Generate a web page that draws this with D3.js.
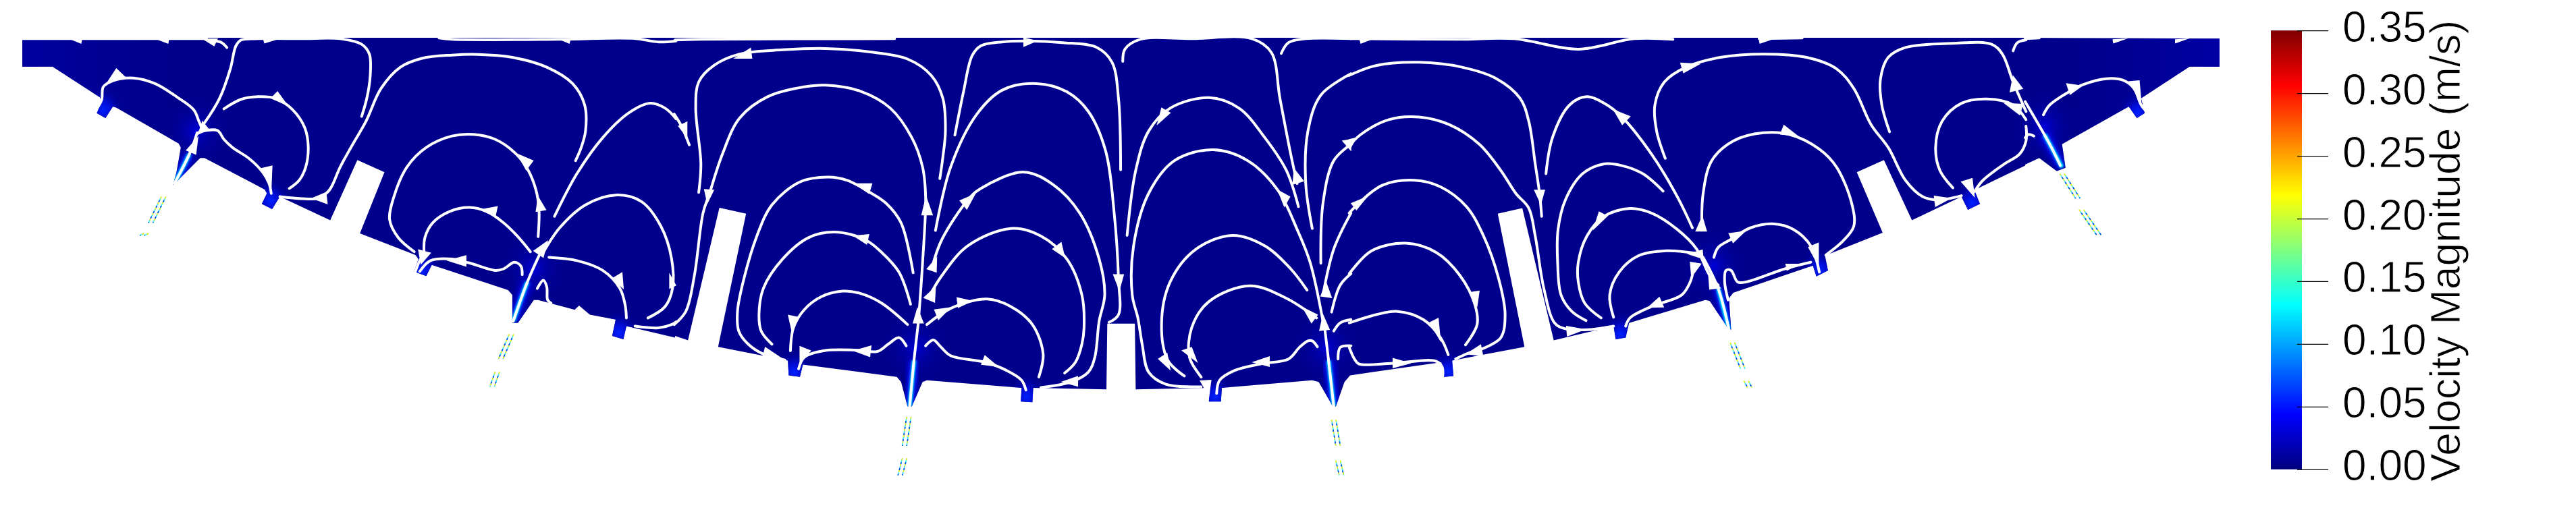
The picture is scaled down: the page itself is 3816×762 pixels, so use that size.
<!DOCTYPE html>
<html><head><meta charset="utf-8">
<style>html,body{margin:0;padding:0;background:#fff;overflow:hidden}svg{display:block}</style>
<script src="https://cdn.jsdelivr.net/npm/d3@7/dist/d3.min.js"></script>
</head><body>
<script>
// ---- values (sheet coordinates per sheet) ----
const colorTicks = [0,0.05,0.10,0.15,0.20,0.25,0.30,0.35];
const colorTitle = "Velocity Magnitude (m/s)";
const jetStops = [[0,"#00007f"],[0.125,"#0000ff"],[0.375,"#00ffff"],[0.625,"#ffff00"],[0.875,"#ff0000"],[1,"#7f0000"]];

// sheet origins of the four read-off sheets: [first x, last x]
const sheets = [[0,1000],[1000,2000],[2000,3000],[3000,3816]];

const outlineA = [[52,115],[52,203],[122,203],[232,297],[236,310],[225,345],[245,360],[262,325],[270,328],[415,438],[420,450],[410,525],[402,565],[465,482],[475,482],[615,578],[620,590],[608,622],[632,638],[650,600],[767,672],[830,488],[893,525],[836,712],[965,778],[972,790],[962,828],[990,842],[1003,808],[1180,885],[1190,900],[1190,985],[1203,985],[1240,915],[1250,915],[1335,945],[1345,932],[1370,960],[1430,975],[1422,1025],[1448,1035],[1455,995],[1568,1030]];
const outlineB = [[0,1025],[30,1038],[103,634],[165,652],[100,1058],[262,1100],[264,1145],[290,1150],[297,1112],[515,1150],[525,1165],[540,1240],[550,1240],[575,1165],[585,1160],[805,1183],[803,1225],[830,1227],[832,1183],[1002,1188],[1004,987],[1068,987],[1070,1188],[1242,1183],[1240,1225],[1268,1225],[1270,1183],[1480,1160],[1495,1165],[1528,1240],[1535,1240],[1555,1165],[1568,1145]];
const outlineC = [[0,1145],[212,1105],[218,1150],[240,1147],[237,1100],[405,1058],[343,652],[400,635],[473,1038],[612,995],[617,1035],[640,1030],[648,985],[825,915],[835,918],[880,1005],[885,1005],[880,910],[890,893],[1075,810],[1083,843],[1110,825],[1103,780],[1237,710],[1177,525],[1240,488],[1305,672],[1420,600],[1435,640],[1463,622],[1450,580],[1568,505]];
const outlineD = [[0,502],[40,482],[90,522],[115,512],[105,440],[295,325],[318,360],[340,345],[330,300],[468,203],[553,203],[553,118],[0,115]];

const streamsA = [
 [[220,340],[236,305],[240,265],[265,245],[310,238],[360,255],[410,295],[450,335],[462,370],[470,395]],
 [[475,375],[510,300],[535,210],[548,140],[560,122],[600,118],[700,118],[790,118],[840,135],[858,165],[860,230],[852,300],[840,355]],
 [[520,332],[560,303],[600,295],[640,300],[680,335],[708,390],[716,450],[710,510],[695,550],[672,575]],
 [[463,402],[505,398],[520,425],[540,450],[580,485],[610,525],[625,560],[630,590]],
 [[650,600],[700,606],[740,604],[765,580],[790,510],[815,450],[850,370],[885,270],[930,205],[980,178],[1050,168],[1110,166],[1190,175],[1270,205],[1330,255],[1358,320],[1360,400],[1350,450],[1337,490]],
 [[962,768],[925,725],[905,670],[915,600],[945,510],[990,450],[1050,415],[1100,410],[1150,425],[1195,465],[1225,515],[1245,580],[1252,640],[1250,722]],
 [[985,770],[987,725],[1005,680],[1045,645],[1090,633],[1130,645],[1170,680],[1205,725],[1232,768]],
 [[965,828],[975,795],[985,775]],
 [[975,828],[1000,795],[1050,790],[1090,802],[1150,825],[1170,820],[1195,800],[1210,812],[1213,838]],
 [[1275,785],[1340,795],[1400,825],[1440,880],[1452,930],[1455,970]],
 [[1248,880],[1262,855],[1270,875],[1272,915],[1280,925]],
 [[1262,770],[1300,695],[1360,625],[1430,595],[1490,615],[1535,690],[1560,790],[1562,880],[1545,935],[1505,970]],
 [[1288,660],[1340,530],[1400,420],[1460,345],[1510,315],[1545,330],[1570,362]],
 [[1475,995],[1530,1000],[1560,990],[1570,982]],
 [[500,125],[515,130],[527,145]],
 [[52,118],[480,118]],
 [[1020,116],[1050,120],[1300,120],[1470,117],[1530,128],[1570,125]],
 [[1192,980],[1225,860],[1252,780]],
 [[405,560],[440,470],[458,405]]
];
const streamsB = [
 [[-2,348],[15,385],[33,442]],
 [[-2,990],[25,950],[45,840],[65,650],[80,590],[110,470],[150,360],[215,295],[300,265],[350,260],[430,278],[500,330],[550,420],[575,510],[582,600],[575,800],[565,985]],
 [[55,587],[60,500],[48,330],[55,250],[90,200],[150,165],[250,152],[350,148],[450,158],[540,180],[595,230],[622,300],[628,400],[622,480],[615,545]],
 [[650,412],[670,280],[690,170],[710,140],[760,128],[820,125],[900,130],[980,145],[1015,190],[1030,300],[1035,518]],
 [[605,703],[640,510],[700,350],[760,275],[840,255],[910,280],[960,340],[1000,460],[1020,650],[1030,850],[1030,960],[1008,983]],
 [[553,832],[525,680],[490,620],[450,585],[400,550],[355,540],[290,555],[225,625],[190,720],[160,850],[145,950],[148,1010],[170,1050],[205,1080],[255,1098]],
 [[547,928],[520,830],[480,770],[440,730],[370,708],[310,725],[250,790],[205,880],[195,960],[200,1010],[225,1050]],
 [[540,990],[480,925],[430,895],[390,888],[340,905],[300,945],[275,1000],[268,1070]],
 [[287,1125],[300,1090],[345,1070],[420,1068],[470,1072],[495,1050],[520,1030],[537,1055]],
 [[585,990],[610,965],[650,935],[725,912],[780,935],[830,990],[855,1080],[845,1150]],
 [[582,1055],[600,1037],[615,1055],[640,1085],[720,1105],[770,1130],[805,1160],[815,1190]],
 [[598,810],[620,730],[680,610],[710,575],[810,525],[880,565],[940,650],[985,790],[998,900],[985,980],[975,1090],[960,1135],[920,1165],[850,1182]],
 [[590,905],[620,840],[680,750],[780,697],[850,720],[910,790],[945,900],[950,1000],[945,1050],[930,1105],[905,1138]],
 [[1050,718],[1070,520],[1100,400],[1150,330],[1240,298],[1310,330],[1370,420],[1420,520],[1448,630]],
 [[1040,187],[1045,150],[1080,120],[1200,118],[1340,118],[1385,160],[1405,300],[1430,470],[1445,560]],
 [[1408,163],[1425,130],[1465,118],[1570,118]],
 [[1222,1180],[1140,1172],[1100,1135],[1085,1050],[1075,970],[1062,900],[1065,750],[1100,590],[1160,490],[1250,457],[1330,490],[1400,580],[1445,700],[1475,800],[1505,980]],
 [[1183,1147],[1145,1100],[1130,990],[1150,860],[1210,760],[1295,718],[1370,750],[1430,820],[1468,885]],
 [[1222,1150],[1195,1090],[1200,1000],[1240,920],[1335,872],[1420,910],[1490,970]],
 [[1258,1200],[1265,1160],[1300,1130],[1360,1110],[1425,1095],[1450,1060],[1470,1040],[1480,1040],[1492,1058]],
 [[1530,1010],[1545,985],[1570,975]],
 [[1540,1095],[1545,1060],[1570,1055]],
 [[1480,697],[1465,560],[1470,400],[1500,290],[1570,225]],
 [[1500,803],[1505,620],[1530,490],[1570,440]],
 [[1505,900],[1530,760],[1570,650]],
 [[1525,952],[1545,870],[1570,835]],
 [[0,122],[60,120],[510,118]],
 [[545,1240],[555,1100],[565,985]],
 [[1530,1240],[1518,1100],[1508,990]]
];
const streamsC = [
 [[-2,985],[60,960],[110,950],[170,975],[210,1030],[228,1082]],
 [[-2,1060],[10,1095],[20,1110],[100,1108],[200,1102],[214,1120],[215,1150]],
 [[-2,230],[60,200],[160,190],[260,205],[340,240],[395,300],[415,370],[430,500],[440,590],[445,660]],
 [[-2,445],[25,410],[90,365],[160,357],[230,380],[300,440],[350,520],[385,590],[415,635],[430,720],[450,880],[475,985],[500,1003],[560,1005],[612,995]],
 [[-2,650],[20,620],[75,565],[150,550],[210,570],[270,630],[310,720],[345,850],[360,960],[350,1030],[305,1065]],
 [[-2,835],[50,765],[130,742],[200,770],[255,840],[290,930],[295,990],[268,1052]],
 [[245,1095],[285,1072],[305,1065]],
 [[455,530],[470,420],[510,320],[550,295],[590,315],[630,355],[700,470],[760,600],[795,695]],
 [[727,583],[680,530],[630,505],[590,500],[540,530],[500,610],[483,700],[482,800],[490,900],[515,950],[548,978]],
 [[583,970],[545,925],[530,860],[530,800],[550,720],[590,660],[650,636],[700,650],[760,700],[805,760],[835,840],[855,870]],
 [[612,968],[603,900],[625,830],[670,780],[735,765],[800,772]],
 [[640,995],[650,970],[700,935],[770,900],[790,860],[798,820]],
 [[845,785],[855,755],[885,730],[930,695],[985,683],[1030,700],[1070,750],[1090,830]],
 [[817,690],[820,590],[840,490],[890,430],[960,405],[1020,410],[1090,455],[1130,510],[1165,620],[1170,690],[1145,735],[1105,778]],
 [[732,483],[712,400],[708,320],[730,250],[780,205],[860,175],[960,165],[1060,175],[1130,210],[1170,270],[1210,380],[1250,450],[1290,550],[1330,600],[1365,610],[1420,597]],
 [[878,915],[870,860],[873,825],[885,825],[900,860],[920,860],[1010,820],[1070,800]],
 [[1253,402],[1235,320],[1232,240],[1250,175],[1290,145],[1400,132],[1490,135],[1515,165],[1540,250],[1570,340]],
 [[1400,573],[1370,520],[1360,450],[1375,370],[1420,315],[1480,302],[1540,320],[1570,365]],
 [[1450,585],[1470,550],[1520,500],[1555,470],[1570,430],[1570,385]],
 [[0,118],[250,120],[380,118],[530,150],[660,118],[750,120]],
 [[950,118],[1050,116]],
 [[1540,155],[1550,130],[1570,122]],
 [[880,1005],[855,880],[820,785]]
];
const streamsD = [
 [[52,350],[70,320],[125,280],[165,258],[230,240],[280,245],[310,270],[330,320],[345,340]],
 [[0,420],[10,410],[25,415]],
 [[0,118],[40,116]],
 [[100,505],[70,440],[0,310]]
];

const arrowsA = [
 [[270,210],[290,235],[250,250]],[[645,280],[668,322],[630,300]],[[632,507],[630,570],[606,515]],
 [[460,418],[455,470],[433,458]],[[757,587],[760,622],[725,605]],[[1202,470],[1238,490],[1222,518]],
 [[1250,600],[1268,640],[1245,645]],[[1155,630],[1150,660],[1115,640]],[[972,762],[1000,772],[978,805]],
 [[1082,780],[1082,812],[1040,795]],[[1272,735],[1262,785],[1240,765]],[[1445,832],[1448,880],[1422,850]],
 [[1555,835],[1570,870],[1555,880]],
 [[160,118],[190,118],[188,133]],[[360,118],[392,118],[390,133]],[[470,118],[505,118],[497,140]],
 [[612,118],[650,118],[615,132]],[[1295,118],[1325,118],[1322,133]],
 [[470,370],[485,395],[460,410]]
];
const arrowsB = [
 [[28,372],[28,420],[8,385]],[[583,600],[598,655],[573,655]],[[563,940],[577,985],[553,985]],
 [[90,580],[75,620],[68,578]],[[175,147],[178,178],[138,178]],[[810,115],[840,125],[810,142]],
 [[1018,838],[1042,838],[1032,885]],[[457,560],[450,590],[417,560]],[[210,1060],[250,1095],[205,1088]],
 [[450,715],[445,745],[415,720]],[[263,962],[285,968],[272,1015]],[[290,1057],[315,1070],[290,1105]],
 [[455,1055],[452,1088],[415,1070]],[[640,938],[612,975],[603,945]],[[655,908],[690,918],[658,938]],
 [[720,1085],[750,1118],[712,1112]],[[608,785],[607,830],[585,820]],[[605,875],[603,922],[578,908]],
 [[697,592],[678,638],[662,612]],[[935,1148],[935,1178],[898,1165]],[[897,740],[905,785],[877,760]],
 [[1130,330],[1150,345],[1120,380]],[[1438,515],[1460,552],[1435,562]],[[1400,580],[1428,600],[1415,630]],
 [[1505,960],[1520,1005],[1497,1008]],[[1143,1078],[1150,1128],[1123,1095]],[[1458,938],[1492,960],[1478,985]],
 [[1178,1070],[1200,1060],[1213,1105]],[[1380,1088],[1380,1118],[1342,1105]],[[1220,1162],[1245,1160],[1240,1210]],
 [[1512,860],[1525,908],[1500,903]],[[1550,430],[1570,425],[1570,460]]
];
const arrowsC = [
 [[205,972],[210,1040],[185,985]],[[100,1093],[140,1108],[100,1122]],[[428,580],[452,580],[443,622]],
 [[503,995],[545,1005],[505,1025]],[[40,600],[15,640],[3,620]],[[300,888],[295,935],[277,893]],
 [[303,1052],[308,1085],[270,1080]],[[612,335],[650,355],[632,380]],[[578,647],[597,660],[565,700]],
 [[832,830],[860,878],[835,882]],[[818,762],[820,790],[785,775]],[[718,907],[728,937],[692,938]],
 [[790,800],[815,805],[793,845]],[[880,712],[918,705],[890,740]],[[1065,755],[1088,742],[1088,810]],
 [[1008,382],[1040,415],[1000,410]],[[818,660],[828,705],[803,705]],[[768,192],[812,195],[775,222]],
 [[1357,598],[1395,605],[1360,630]],[[1012,805],[1045,805],[1015,825]],[[1540,232],[1562,270],[1533,280]],
 [[1520,315],[1562,318],[1555,350]],[[1420,555],[1445,545],[1450,600]],
 [[22,118],[50,120],[25,133]],[[950,118],[980,120],[952,133]],[[-2,425],[15,420],[0,455]]
];
const arrowsD = [
 [[118,255],[162,262],[128,288]],[[295,250],[325,247],[330,310]],
 [[250,120],[290,118],[252,132]],[[428,120],[465,118],[428,132]]
];

// glowing lower part of the jets: from nozzle tip upward
const jetsA = [[[405,560],[425,510],[440,470]],[[1192,980],[1208,920],[1225,860]]];
const jetsB = [[[545,1240],[550,1170],[555,1100]],[[1530,1240],[1524,1170],[1518,1100]]];
const jetsC = [[[880,1005],[868,945],[855,880]]];
const jetsD = [[[105,510],[85,470],[55,410]]];

const nozzlesA = [[240,335],[628,612],[980,825],[1438,1015]];
const nozzlesB = [[277,1135],[817,1210],[1255,1210]];
const nozzlesC = [[228,1135],[628,1020],[1090,825],[1445,620]];
const nozzlesD = [[320,345]];

const mouthsA = [[455,400],[1240,820]];
const mouthsB = [[560,1060],[1513,1060]];
const mouthsC = [[845,810]];
const mouthsD = [[55,385]];

const dashesA = [[[380,600],[350,680]],[[340,712],[330,718]],[[1188,1020],[1163,1095]],[[1155,1135],[1143,1180]]];
const dashesB = [[[543,1272],[533,1360]],[[533,1398],[523,1450]],[[1530,1280],[1540,1360]],[[1540,1405],[1548,1450]]];
const dashesC = [[[888,1045],[912,1125]],[[920,1162],[928,1182]]];
const dashesD = [[[105,530],[150,605]],[[160,640],[210,717]]];

// ---- drawing ----
const W = 3816, H = 762;
const xs = sheets.map(s => d3.scaleLinear().domain([0,1568]).range(s));
const y = d3.scaleLinear().domain([0,1568]).range([0,H]);
const P = p => d => [xs[p](d[0]), y(d[1])];

const svg = d3.select("body").append("svg").attr("width",W).attr("height",H);
const defs = svg.append("defs");

const outline = [].concat(outlineA.map(P(0)),outlineB.map(P(1)),outlineC.map(P(2)),outlineD.map(P(3)));
defs.append("clipPath").attr("id","dom").append("polygon").attr("points",outline.map(d=>d.join(",")).join(" "));

const mkBlur=(id,s)=>defs.append("filter").attr("id",id).attr("x","-100%").attr("y","-30%").attr("width","300%").attr("height","160%")
  .append("feGaussianBlur").attr("stdDeviation",s);
mkBlur("b1",0.9); mkBlur("b2",2.2); mkBlur("b3",5);

const rg=(id,stops)=>{const g=defs.append("radialGradient").attr("id",id);
  stops.forEach(s=>g.append("stop").attr("offset",s[0]).attr("stop-color",s[1]).attr("stop-opacity",s[2]));};
rg("glowBig",[[0,"#0000e8",0.85],[0.35,"#0000c0",0.45],[1,"#00008c",0]]);
rg("glowSmall",[[0,"#0020ff",1],[0.35,"#0010e8",0.8],[1,"#00008c",0]]);

const dom = svg.append("g").attr("clip-path","url(#dom)");
dom.append("rect").attr("width",W).attr("height",H).attr("fill","#00008c");

const ends = defs.append("linearGradient").attr("id","edgeTint").attr("gradientUnits","userSpaceOnUse")
  .attr("x1",xs[0](52)).attr("x2",xs[3](553));
[[0,"#00009e",1],[0.07,"#00009e",0],[0.93,"#00009e",0],[1,"#0000a2",1]].forEach(s=>
  ends.append("stop").attr("offset",s[0]).attr("stop-color",s[1]).attr("stop-opacity",s[2]));
dom.append("rect").attr("width",W).attr("height",H).attr("fill","url(#edgeTint)");

const line = d3.line().curve(d3.curveCatmullRom.alpha(0.5));
const groups = [
 {p:0,streams:streamsA,arrows:arrowsA,jets:jetsA,noz:nozzlesA,mouth:mouthsA,dash:dashesA},
 {p:1,streams:streamsB,arrows:arrowsB,jets:jetsB,noz:nozzlesB,mouth:mouthsB,dash:dashesB},
 {p:2,streams:streamsC,arrows:arrowsC,jets:jetsC,noz:nozzlesC,mouth:mouthsC,dash:dashesC},
 {p:3,streams:streamsD,arrows:arrowsD,jets:jetsD,noz:nozzlesD,mouth:mouthsD,dash:dashesD}
];

groups.forEach(g=>{
  const f=P(g.p);
  dom.selectAll(null).data(g.mouth).join("ellipse")
    .attr("cx",d=>f(d)[0]).attr("cy",d=>f(d)[1]).attr("rx",52).attr("ry",56).attr("fill","url(#glowBig)");
  dom.selectAll(null).data(g.noz).join("ellipse")
    .attr("cx",d=>f(d)[0]).attr("cy",d=>f(d)[1]).attr("rx",30).attr("ry",34).attr("fill","url(#glowSmall)");
  const jp=g.jets.map(j=>line(j.map(f)));
  const stroke=(c,w,fl,o)=>dom.selectAll(null).data(jp).join("path").attr("d",d=>d).attr("fill","none")
     .attr("stroke",c).attr("stroke-width",w).attr("stroke-opacity",o).attr("filter",fl?`url(#${fl})`:null);
  stroke("#0000ff",16,"b3",0.8);
  stroke("#0070ff",8,"b2",0.9);
  stroke("#00ffff",5,"b1",1);
});

// streamlines and arrow heads
const grow = (t,k) => { const c=d3.polygonCentroid(t); return t.map(q=>[c[0]+(q[0]-c[0])*k,c[1]+(q[1]-c[1])*k]); };
groups.forEach(g=>{
  const f=P(g.p);
  svg.append("g").selectAll("path").data(g.streams).join("path")
    .attr("d",d=>line(d.map(f))).attr("fill","none").attr("stroke","#fff").attr("stroke-width",4).attr("stroke-linecap","round");
  svg.append("g").selectAll("polygon").data(g.arrows).join("polygon")
    .attr("points",d=>grow(d.map(f),1.1).map(q=>q.join(",")).join(" ")).attr("fill","#fff");
  // thin detached jet traces below the nozzles
  const seg=svg.append("g").attr("fill","none").attr("stroke-width",1.6);
  [-3.3,3.3].forEach(off=>{
    const pts=g.dash.map(d=>d.map(f).map(q=>[q[0]+off,q[1]]));
    const draw=(c,da,o)=>seg.append("g").selectAll("path").data(pts).join("path").attr("d",d=>d3.line()(d)).attr("stroke",c).attr("stroke-dasharray",da).attr("stroke-dashoffset",o);
    draw("#33eeee",null,null);
    draw("#ffee00","3 6",0);
    draw("#0040e0","3 6",3);
  });
});

// colour bar
const cbX=3364, cbW=46, cbTop=45.2, cbBot=695.8;
const cy = d3.scaleLinear().domain([0,0.35]).range([cbBot,cbTop]);
const lg = defs.append("linearGradient").attr("id","jet").attr("x1",0).attr("x2",0).attr("y1",1).attr("y2",0);
lg.selectAll("stop").data(jetStops).join("stop").attr("offset",d=>d[0]).attr("stop-color",d=>d[1]);
svg.append("rect").attr("x",cbX).attr("y",cbTop).attr("width",cbW).attr("height",cbBot-cbTop).attr("fill","url(#jet)");
const ax = svg.append("g").attr("transform",`translate(3403,0)`)
  .call(d3.axisRight(cy).tickValues(colorTicks).tickSize(46).tickPadding(21).tickFormat(d3.format(".2f")));
ax.select(".domain").remove();
ax.selectAll("line").attr("stroke","#000").attr("stroke-width",1.2);
ax.selectAll("text").attr("font-family","'Liberation Sans',Arial,sans-serif").attr("font-size",64).attr("dy","0.25em")
  .attr("fill","#000").attr("stroke","#fff").attr("stroke-width",0.9);
svg.append("text").attr("transform","translate(3644,714) rotate(-90)")
  .attr("font-family","'Liberation Sans',Arial,sans-serif").attr("font-size",62.5).attr("fill","#000")
  .attr("stroke","#fff").attr("stroke-width",0.9).text(colorTitle);
</script>
</body></html>
